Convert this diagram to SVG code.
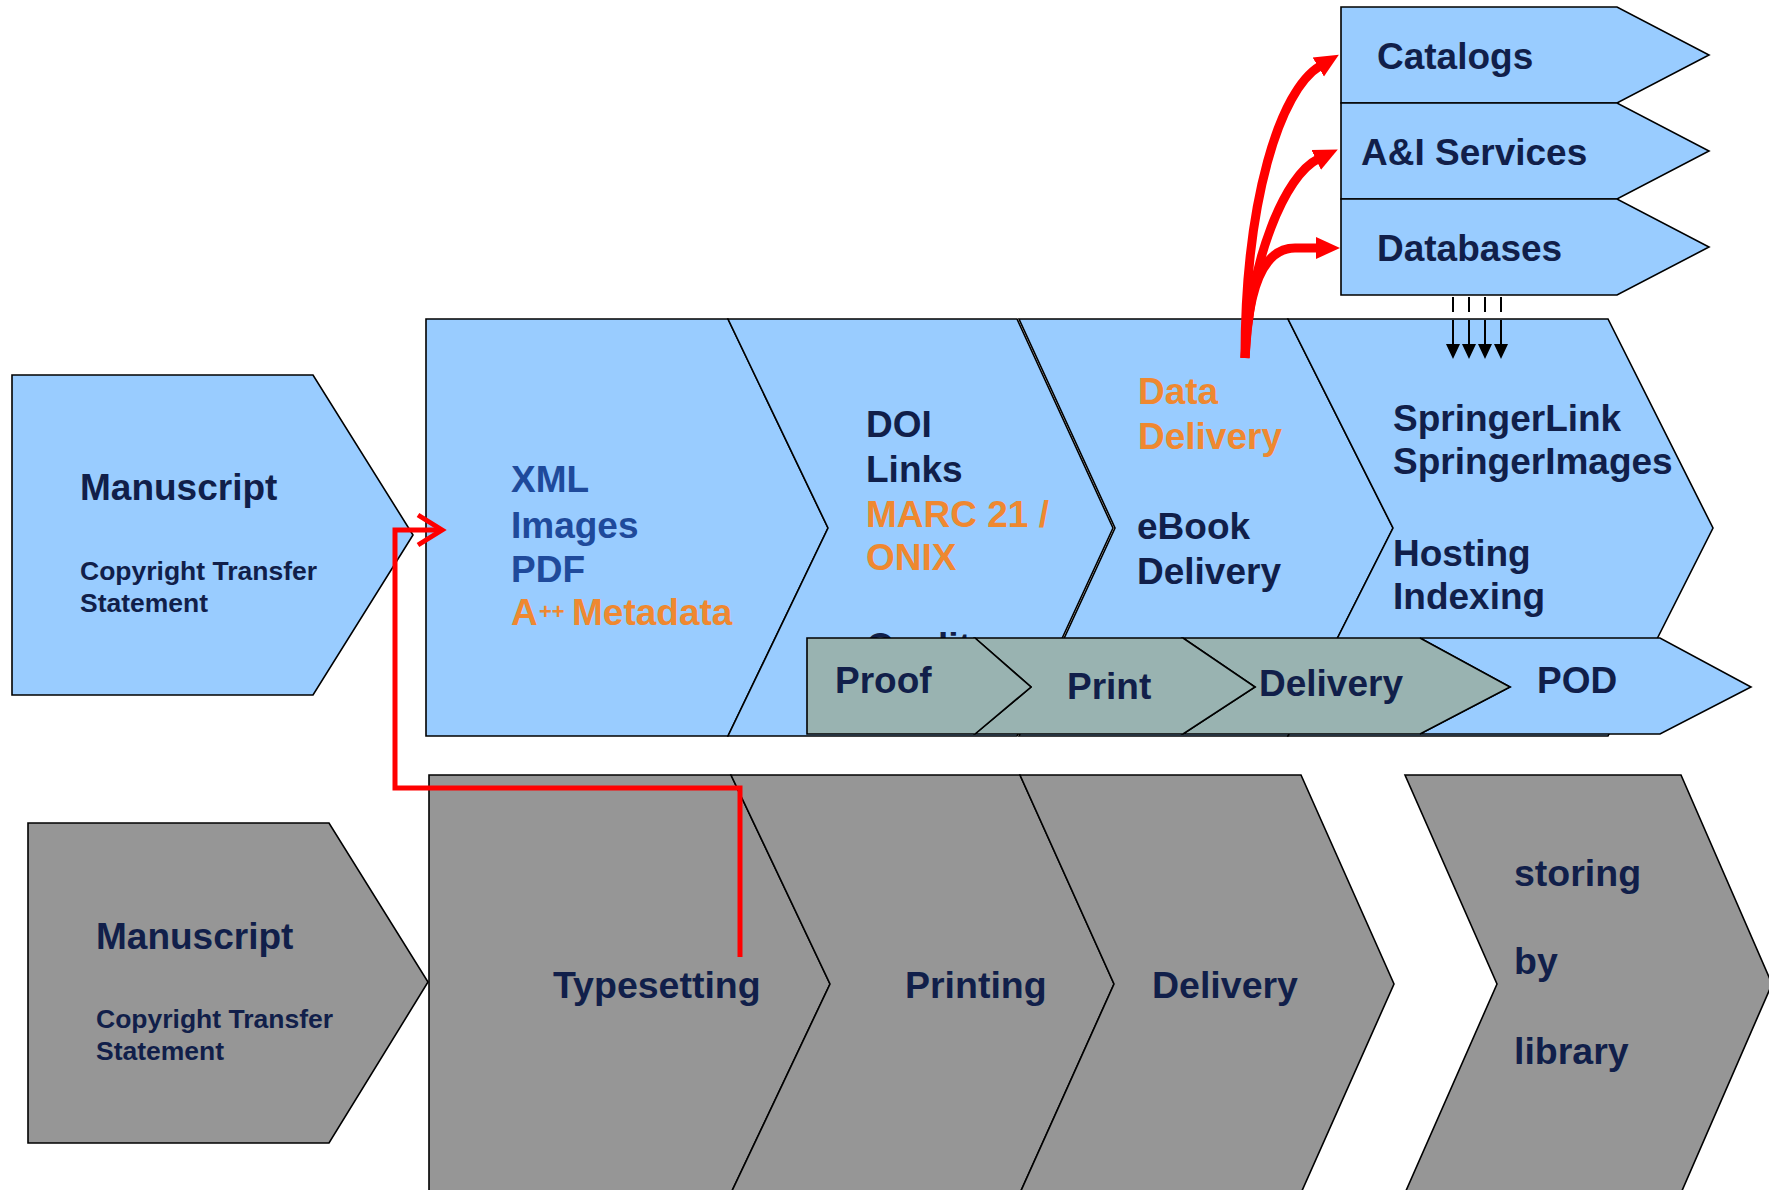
<svg xmlns="http://www.w3.org/2000/svg" width="1769" height="1190" viewBox="0 0 1769 1190">
<style>
text{font-family:"Liberation Sans",Arial,sans-serif;font-weight:bold;fill:#111F4A;font-size:37px}
.big{font-size:37.5px}
.blue{fill:#99CCFF;stroke:#000;stroke-width:1.6;stroke-linejoin:miter}
.gray{fill:#969696;stroke:#000;stroke-width:1.6}
.teal{fill:#99B3B1;stroke:#000;stroke-width:1.6}
.small{font-size:26.5px}
.or{fill:#EF8830}
.xb{fill:#1F4A9B}
.red{fill:none;stroke:#FF0000;stroke-width:9}
.redl{fill:none;stroke:#FF0000;stroke-width:5}
.dash{stroke:#000;stroke-width:2;stroke-dasharray:15 8 30 8}
</style>
<defs>
<marker id="redHead" markerUnits="userSpaceOnUse" markerWidth="26" markerHeight="26" viewBox="0 0 26 26" refX="2" refY="13" orient="auto">
<path d="M0,2 L24,13 L0,24 z" fill="#FF0000"/>
</marker>
<marker id="blackHead" markerUnits="userSpaceOnUse" markerWidth="16" markerHeight="16" viewBox="0 0 16 16" refX="0" refY="8" orient="auto">
<path d="M0,1 L15,8 L0,15 z" fill="#000"/>
</marker>
</defs>

<!-- top row main process -->
<g id="node-xml">
<polygon class="blue" points="426,319 728,319 828,528 728,736 426,736"/>
<text class="xb" x="511" y="492">XML</text>
<text class="xb" x="511" y="538">Images</text>
<text class="xb" x="511" y="582">PDF</text>
<text class="or" x="511" y="625">A</text>
<text class="or" x="539" y="619" style="font-size:22px">++</text>
<text class="or" x="572" y="625">Metadata</text>
</g>
<g id="node-doi">
<polygon class="blue" points="728,319 1017,319 1113,528 1017,736 728,736 828,528"/>
<text x="866" y="437">DOI</text>
<text x="866" y="482">Links</text>
<text class="or" x="866" y="527">MARC 21 /</text>
<text class="or" x="866" y="570">ONIX</text>
<text x="866" y="659">Quality</text>
</g>
<g id="node-data">
<polygon class="blue" points="1019,319 1288,319 1393,528 1288,736 1019,736 1115,528"/>
<text class="or" x="1138" y="404">Data</text>
<text class="or" x="1138" y="449">Delivery</text>
<text x="1137" y="539">eBook</text>
<text x="1137" y="584">Delivery</text>
</g>
<g id="node-springer">
<polygon class="blue" points="1288,319 1608,319 1713,528 1608,736 1288,736 1393,528"/>
<text x="1393" y="431">SpringerLink</text>
<text x="1393" y="474">SpringerImages</text>
<text x="1393" y="566">Hosting</text>
<text x="1393" y="609">Indexing</text>
</g>

<!-- output band -->
<g id="node-pod">
<polygon class="blue" points="1420,638 1660,638 1751,687 1660,734 1420,734 1510,687"/>
<text x="1537" y="693">POD</text>
</g>
<g id="node-delivery-band">
<polygon class="teal" points="1183,638 1420,638 1510,687 1420,734 1183,734 1255,687"/>
<text x="1259" y="696">Delivery</text>
</g>
<g id="node-print">
<polygon class="teal" points="975,638 1183,638 1255,687 1183,734 975,734 1031,687"/>
<text x="1067" y="699">Print</text>
</g>
<g id="node-proof">
<polygon class="teal" points="807,638 975,638 1031,687 975,734 807,734"/>
<text x="835" y="693">Proof</text>
</g>

<!-- distribution boxes -->
<g id="node-catalogs">
<polygon class="blue" points="1341,7 1617,7 1709,55 1617,103 1341,103"/>
<text x="1377" y="69">Catalogs</text>
</g>
<g id="node-ai">
<polygon class="blue" points="1341,103 1617,103 1709,151 1617,199 1341,199"/>
<text x="1361" y="165">A&amp;I Services</text>
</g>
<g id="node-databases">
<polygon class="blue" points="1341,199 1617,199 1709,247 1617,295 1341,295"/>
<text x="1377" y="261">Databases</text>
</g>

<g id="node-manuscript-top">
<polygon class="blue" points="12,375 313,375 413,535 313,695 12,695"/>
<text x="80" y="500">Manuscript</text>
<text class="small" x="80" y="580">Copyright Transfer</text>
<text class="small" x="80" y="612">Statement</text>
</g>

<!-- bottom row (traditional) -->
<g id="node-manuscript-bottom">
<polygon class="gray" points="28,823 329,823 428,982 329,1143 28,1143"/>
<text x="96" y="949">Manuscript</text>
<text class="small" x="96" y="1028">Copyright Transfer</text>
<text class="small" x="96" y="1060">Statement</text>
</g>
<g id="node-typesetting">
<polygon class="gray" points="429,775 731,775 830,984 731,1193 429,1193"/>
<text class="big" x="553" y="998">Typesetting</text>
</g>
<g id="node-printing">
<polygon class="gray" points="731,775 1020,775 1114,984 1020,1193 731,1193 830,984"/>
<text class="big" x="905" y="998">Printing</text>
</g>
<g id="node-delivery-bottom">
<polygon class="gray" points="1020,775 1301,775 1394,984 1301,1193 1020,1193 1114,984"/>
<text class="big" x="1152" y="998">Delivery</text>
</g>
<g id="node-storing">
<polygon class="gray" points="1405,775 1681,775 1772,984 1681,1193 1405,1193 1497,984"/>
<text class="big" x="1514" y="886">storing</text>
<text class="big" x="1514" y="974">by</text>
<text class="big" x="1514" y="1064">library</text>
</g>

<!-- connectors -->
<g id="connectors">
<path class="redl" d="M740,957 L740,788 L395,788 L395,530 L440,530"/>
<polyline class="redl" points="418,515 442,530 418,545"/>
<path class="red" d="M1245,358 C1245,200 1280,90 1320,66" marker-end="url(#redHead)"/>
<path class="red" d="M1245,358 C1250,260 1285,175 1318,159" marker-end="url(#redHead)"/>
<path class="red" d="M1245,358 C1248,290 1262,248 1295,248 L1318,248" marker-end="url(#redHead)"/>
<line class="dash" x1="1453" y1="297" x2="1453" y2="344" marker-end="url(#blackHead)"/>
<line class="dash" x1="1469" y1="297" x2="1469" y2="344" marker-end="url(#blackHead)"/>
<line class="dash" x1="1485" y1="297" x2="1485" y2="344" marker-end="url(#blackHead)"/>
<line class="dash" x1="1501" y1="297" x2="1501" y2="344" marker-end="url(#blackHead)"/>
</g>
</svg>
